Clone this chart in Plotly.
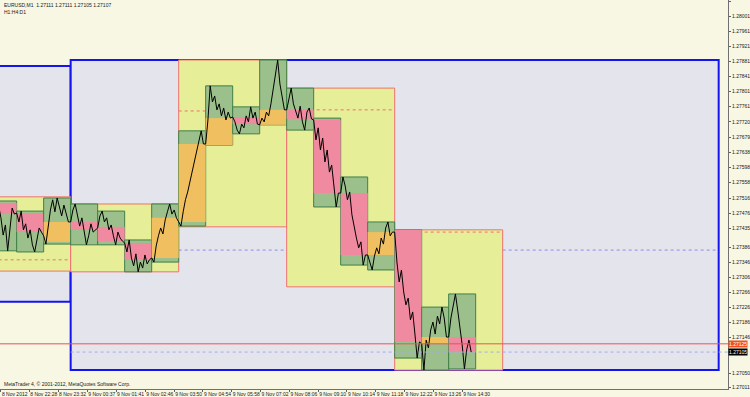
import plotly.graph_objects as go
import pandas as pd

# ---------------- data ----------------
# 5-minute samples of EURUSD M1 price, by hour starting 8 Nov 21:00
h21 = [1.27504,1.27490,1.27509,1.27480,1.27496,1.27464,1.27418,1.27445,1.27376,1.27426,1.27490,1.27474]
h22 = [1.27477,1.27453,1.27482,1.27432,1.27448,1.27410,1.27432,1.27392,1.27373,1.27405,1.27437,1.27426]
h23 = [1.27416,1.27394,1.27445,1.27485,1.27512,1.27480,1.27517,1.27490,1.27469,1.27498,1.27474,1.27453]
h00 = [1.27453,1.27485,1.27501,1.27469,1.27442,1.27464,1.27421,1.27392,1.27416,1.27448,1.27426,1.27432]
h01 = [1.27437,1.27469,1.27482,1.27453,1.27464,1.27432,1.27445,1.27416,1.27392,1.27426,1.27410,1.27402]
h02 = [1.27397,1.27373,1.27405,1.27357,1.27336,1.27368,1.27320,1.27346,1.27330,1.27365,1.27341,1.27352]
h03 = [1.27357,1.27346,1.27389,1.27416,1.27437,1.27421,1.27458,1.27480,1.27501,1.27474,1.27485,1.27464]
h04 = [1.27453,1.27442,1.27480,1.27512,1.27533,1.27560,1.27592,1.27618,1.27645,1.27677,1.27696,1.27661]
h05 = [1.27661,1.27725,1.27816,1.27773,1.27789,1.27752,1.27768,1.27736,1.27757,1.27725,1.27746,1.27730]
h06 = [1.27733,1.27720,1.27698,1.27688,1.27714,1.27704,1.27736,1.27720,1.27760,1.27730,1.27746,1.27714]
h07 = [1.27712,1.27730,1.27720,1.27746,1.27736,1.27768,1.27805,1.27853,1.27885,1.27821,1.27784,1.27752]
h08 = [1.27752,1.27784,1.27810,1.27768,1.27746,1.27730,1.27762,1.27720,1.27698,1.27746,1.27757,1.27728]
h09 = [1.27725,1.27672,1.27704,1.27645,1.27677,1.27613,1.27645,1.27586,1.27605,1.27538,1.27493,1.27530]
h10 = [1.27530,1.27573,1.27549,1.27512,1.27533,1.27472,1.27437,1.27410,1.27384,1.27400,1.27338,1.27365]
h11 = [1.27365,1.27341,1.27325,1.27362,1.27384,1.27368,1.27410,1.27394,1.27437,1.27453,1.27416,1.27426]
h12 = [1.27426,1.27346,1.27293,1.27325,1.27266,1.27232,1.27250,1.27192,1.27213,1.27154,1.27090,1.27133]
h13 = [1.27128,1.27058,1.27138,1.27117,1.27165,1.27186,1.27154,1.27202,1.27181,1.27226,1.27197,1.27146]
h14 = [1.27146,1.27197,1.27232,1.27261,1.27218,1.27176,1.27125,1.27061,1.27112,1.27138,1.27106]
price = h21+h22+h23+h00+h01+h02+h03+h04+h05+h06+h07+h08+h09+h10+h11+h12+h13+h14

# hourly boxes: high, low, open, close (first hour 8 Nov 21:00)
hr_high  = [1.27509,1.27482,1.27517,1.27501,1.27482,1.27405,1.27501,1.27696,1.27816,1.27760,1.27885,1.27810,1.27730,1.27573,1.27453,1.27432,1.27226,1.27261]
hr_low   = [1.27376,1.27373,1.27394,1.27392,1.27392,1.27320,1.27346,1.27442,1.27658,1.27688,1.27712,1.27698,1.27493,1.27338,1.27325,1.27090,1.27058,1.27061]
hr_open  = [1.27504,1.27477,1.27400,1.27453,1.27440,1.27397,1.27357,1.27453,1.27658,1.27733,1.27712,1.27752,1.27725,1.27530,1.27365,1.27432,1.27128,1.27146]
hr_close = [1.27474,1.27426,1.27453,1.27432,1.27402,1.27352,1.27464,1.27661,1.27730,1.27714,1.27752,1.27728,1.27530,1.27365,1.27426,1.27133,1.27146,1.27106]

# 4-hour boxes (first box 8 Nov 20:00)
h4_high = [1.27520,1.27501,1.27885,1.27810,1.27432]
h4_low  = [1.27322,1.27320,1.27440,1.27280,1.27058]
h4_line = [1.27352,None,1.27749,1.27752,1.27426]

# daily boxes
d_start = ["2012-11-08","2012-11-09"]
d_high = [1.27869,1.27885]
d_low = [1.27240,1.27058]
d_line = [None,1.27378]

ask, bid = 1.27128, 1.27106

x_tickvals = ["2012-11-08 21:25","2012-11-08 22:28","2012-11-08 23:32","2012-11-09 00:37",
              "2012-11-09 01:41","2012-11-09 02:46","2012-11-09 03:50","2012-11-09 04:54",
              "2012-11-09 05:58","2012-11-09 07:02","2012-11-09 08:06","2012-11-09 09:10",
              "2012-11-09 10:14","2012-11-09 11:18","2012-11-09 12:22","2012-11-09 13:26",
              "2012-11-09 14:30"]
x_ticktext = ["8 Nov 2012","8 Nov 22:28","8 Nov 23:32","9 Nov 00:37","9 Nov 01:41","9 Nov 02:46",
              "9 Nov 03:50","9 Nov 04:54","9 Nov 05:58","9 Nov 07:02","9 Nov 08:06","9 Nov 09:10",
              "9 Nov 10:14","9 Nov 11:18","9 Nov 12:22","9 Nov 13:26","9 Nov 14:30"]
y_ticktext = ["1.28040","1.28001","1.27961","1.27921","1.27881","1.27841","1.27801","1.27761",
              "1.27720","1.27679","1.27638","1.27598","1.27558","1.27516","1.27476","1.27435",
              "1.27386","1.27346","1.27306","1.27266","1.27226","1.27186","1.27146","1.27050","1.27011"]

# ---------------- styles ----------------
BG = "#F7F7E4"
DAY_FILL = "#E4E4EC"
DAY_LINE = "#1414F0"
H4_FILL = "#E6EF98"
H4_LINE = "#F07070"
HR_FILL = "#9CC08C"
HR_LINE = "#3F7F46"
BEAR = "#F08AA0"
BULL = "#F0C060"
FONT = "Liberation Sans, Arial, sans-serif"

times = pd.date_range("2012-11-08 21:00", periods=len(price), freq="5min")
hours = pd.date_range("2012-11-08 21:00", periods=len(hr_high), freq="h")
h4s = pd.date_range("2012-11-08 20:00", periods=len(h4_high), freq="4h")

shapes = []
def rect(x0, x1, y0, y1, fill, line, lw=1, dash="solid"):
    shapes.append(dict(type="rect", xref="x", yref="y", x0=x0, x1=x1, y0=y0, y1=y1,
                       fillcolor=fill, line=dict(color=line, width=lw, dash=dash), layer="below"))
def hline(x0, x1, y, color, dash="dot", lw=1, layer="below"):
    shapes.append(dict(type="line", xref="x", yref="y", x0=x0, x1=x1, y0=y, y1=y,
                       line=dict(color=color, width=lw, dash=dash), layer=layer))

for i, d in enumerate(d_start):
    ds = pd.Timestamp(d)
    de = ds + pd.Timedelta(days=1)
    rect(ds, de, d_low[i], d_high[i], DAY_FILL, DAY_LINE, 2)
for i, d in enumerate(d_start):
    if d_line[i] is not None:
        ds = pd.Timestamp(d)
        hline(ds, ds + pd.Timedelta(days=1), d_line[i], "#8C8CF0", "dot")

for i, t in enumerate(h4s):
    rect(t, t + pd.Timedelta(hours=4), h4_low[i], h4_high[i], H4_FILL, H4_LINE, 1)
    if h4_line[i] is not None:
        hline(t, t + pd.Timedelta(hours=4), h4_line[i], H4_LINE, "dot")

for i, t in enumerate(hours):
    t1 = t + pd.Timedelta(hours=1)
    rect(t, t1, hr_low[i], hr_high[i], HR_FILL, HR_LINE, 1)
    o, c = hr_open[i], hr_close[i]
    rect(t, t1, min(o, c), max(o, c), BEAR if c < o else BULL, "rgba(0,0,0,0)", 0)

x_end = pd.Timestamp("2012-11-10 00:20:42")
hline(pd.Timestamp("2012-11-08 20:00"), x_end, ask, "#F05050", "solid", 1, "above")
hline(pd.Timestamp("2012-11-09 00:00"), x_end, bid, "#A8A8F0", "dot", 1, "above")

fig = go.Figure()
fig.add_trace(go.Scatter(x=times, y=price, mode="lines", line=dict(color="#000000", width=1),
                         hoverinfo="skip", showlegend=False))

fig.update_layout(
    width=750, height=397, margin=dict(l=0, r=17, t=0, b=8),
    paper_bgcolor=BG, plot_bgcolor=BG, shapes=shapes, showlegend=False,
    font=dict(family=FONT, size=5, color="#202020"),
    xaxis=dict(type="date", range=["2012-11-08 21:22:57", "2012-11-10 00:20:42"],
               tickvals=x_tickvals, ticktext=x_ticktext, ticks="outside", ticklen=2,
               tickcolor="#606060", ticklabelposition="outside right", tickangle=0,
               showgrid=False, zeroline=False, showline=True, linecolor="#707070", linewidth=1,
               tickfont=dict(size=5)),
    yaxis=dict(range=[1.270075, 1.28045], side="right",
               tickvals=[float(v) for v in y_ticktext], ticktext=y_ticktext,
               ticks="outside", ticklen=2, tickcolor="#606060",
               showgrid=False, zeroline=False, showline=True, linecolor="#707070", linewidth=1,
               tickfont=dict(size=5)),
)

fig.add_annotation(xref="paper", yref="paper", x=0.003, y=1, xanchor="left", yanchor="top",
                   text="EURUSD,M1  1.27111 1.27111 1.27105 1.27107<br>H1:H4:D1", showarrow=False,
                   align="left", font=dict(size=5, color="#202020"))
fig.add_annotation(xref="paper", yref="paper", x=0.003, y=0, xanchor="left", yanchor="bottom",
                   text="MetaTrader 4, © 2001-2012, MetaQuotes Software Corp.", showarrow=False,
                   font=dict(size=5, color="#202020"))
fig.add_annotation(xref="paper", yref="y", x=1, y=ask, xanchor="left", yanchor="middle",
                   text="1.27125", showarrow=False, bgcolor="#F05020", font=dict(size=5, color="#FFFFFF"),
                   borderpad=0)
fig.add_annotation(xref="paper", yref="y", x=1, y=bid, xanchor="left", yanchor="middle",
                   text="1.27105", showarrow=False, bgcolor="#000000", font=dict(size=5, color="#FFFFFF"),
                   borderpad=0)

fig.write_html("out.html")
